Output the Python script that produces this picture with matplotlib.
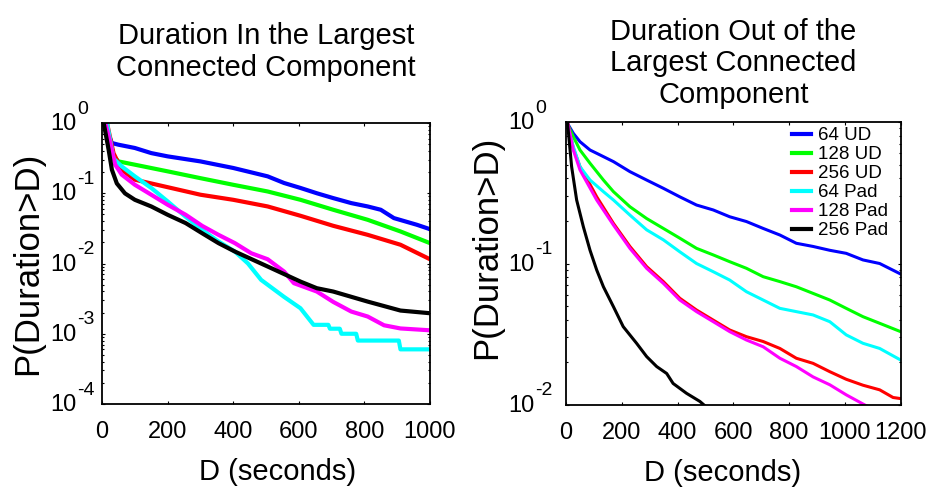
import numpy as np
import matplotlib.pyplot as plt
from matplotlib.transforms import offset_copy
from matplotlib.ticker import LogLocator, NullFormatter, NullLocator

plt.rcParams['font.family'] = ['Liberation Sans', 'DejaVu Sans']

names = ['64 UD', '128 UD', '256 UD', '64 Pad', '128 Pad', '256 Pad']
colors = ['#0000ff', '#00ff00', '#ff0000', '#00ffff', '#ff00ff', '#000000']

# left panel: duration in the largest connected component
in_d_64ud = [5, 30, 50, 100, 150, 200, 300, 400, 505, 555, 605, 655, 705, 760, 810, 850, 890, 960, 1000]
in_p_64ud = [1.0, 0.519, 0.491, 0.441, 0.373, 0.335, 0.284, 0.229, 0.174, 0.140, 0.119, 0.100,
             0.0853, 0.0724, 0.0649, 0.0582, 0.0443, 0.0356, 0.0308]
in_d_128ud = [10, 35, 50, 100, 200, 300, 400, 505, 605, 705, 810, 910, 1000]
in_p_128ud = [1.0, 0.335, 0.284, 0.255, 0.205, 0.164, 0.132, 0.106, 0.0807, 0.0582, 0.0419, 0.0286, 0.0195]
in_d_256ud = [15, 35, 60, 100, 200, 300, 400, 505, 605, 705, 810, 910, 1000]
in_p_256ud = [1.0, 0.372, 0.216, 0.156, 0.122, 0.0953, 0.0807, 0.0649, 0.0478, 0.0344, 0.0256, 0.0185, 0.0115]
in_d_64pad = [15, 35, 60, 100, 150, 200, 255, 305, 355, 405, 445, 485, 555, 605, 645, 690, 695,
              725, 730, 775, 780, 905, 910, 1000]
in_p_64pad = [1.0, 0.313, 0.241, 0.174, 0.119, 0.0766, 0.0462, 0.0302, 0.0206, 0.0148, 0.0100,
              0.00585, 0.00335, 0.00231, 0.00134, 0.00134, 0.00118, 0.00118, 0.00100, 0.00100,
              0.00080, 0.00080, 0.00060, 0.00060]
in_d_128pad = [10, 25, 40, 60, 100, 150, 200, 255, 305, 355, 405, 455, 505, 555, 585, 655, 705,
               760, 810, 860, 910, 1000]
in_p_128pad = [1.0, 0.519, 0.255, 0.184, 0.132, 0.0953, 0.0686, 0.0494, 0.0344, 0.0256, 0.0195,
               0.0140, 0.0115, 0.00769, 0.00525, 0.00399, 0.00284, 0.00207, 0.00176, 0.00132,
               0.00119, 0.00112]
in_d_256pad = [5, 20, 30, 45, 70, 100, 150, 200, 255, 305, 355, 405, 505, 605, 655, 705, 810, 910, 1000]
in_p_256pad = [1.0, 0.417, 0.216, 0.138, 0.0995, 0.0807, 0.0649, 0.0494, 0.0376, 0.0270, 0.0195,
               0.0148, 0.00906, 0.00553, 0.00445, 0.00399, 0.00287, 0.00214, 0.00196]

# right panel: duration out of the largest connected component
out_d_64ud = [2, 26, 50, 86, 122, 170, 229, 289, 349, 408, 468, 528, 587, 647, 707, 767, 826,
              886, 946, 1005, 1065, 1125, 1200]
out_p_64ud = [1.0, 0.832, 0.726, 0.634, 0.585, 0.525, 0.446, 0.389, 0.340, 0.296, 0.259, 0.239,
              0.214, 0.198, 0.177, 0.159, 0.139, 0.132, 0.124, 0.118, 0.106, 0.100, 0.0843]
out_d_128ud = [2, 26, 50, 86, 134, 170, 229, 289, 349, 408, 468, 528, 587, 647, 707, 767, 826,
               886, 946, 1005, 1065, 1125, 1200]
out_p_128ud = [1.0, 0.787, 0.634, 0.511, 0.389, 0.322, 0.252, 0.208, 0.177, 0.151, 0.128, 0.115,
               0.103, 0.0925, 0.0807, 0.0745, 0.0685, 0.0615, 0.0552, 0.0482, 0.0421, 0.0378, 0.0330]
out_d_256ud = [5, 26, 50, 74, 110, 170, 229, 289, 349, 408, 468, 528, 587, 647, 707, 767, 826,
               886, 946, 1005, 1065, 1125, 1173, 1200]
out_p_256ud = [1.0, 0.652, 0.483, 0.400, 0.296, 0.192, 0.132, 0.0951, 0.0745, 0.0568, 0.0469,
               0.0398, 0.0339, 0.0304, 0.0281, 0.0251, 0.0214, 0.0197, 0.0172, 0.0152, 0.0138,
               0.0128, 0.0113, 0.0111]
out_d_64pad = [2, 26, 50, 86, 134, 170, 229, 289, 349, 408, 468, 528, 587, 647, 707, 767, 826,
               886, 946, 1005, 1065, 1125, 1200]
out_p_64pad = [1.0, 0.670, 0.483, 0.389, 0.322, 0.281, 0.220, 0.173, 0.147, 0.121, 0.100, 0.0875,
               0.0764, 0.0632, 0.0552, 0.0482, 0.0457, 0.0433, 0.0388, 0.0313, 0.0273, 0.0251, 0.0208]
out_d_128pad = [5, 26, 50, 110, 170, 229, 289, 349, 408, 468, 528, 587, 647, 707, 767, 826, 886,
                946, 1005, 1080]
out_p_128pad = [1.0, 0.634, 0.458, 0.281, 0.187, 0.128, 0.0925, 0.0724, 0.0552, 0.0457, 0.0388,
                0.0330, 0.0288, 0.0258, 0.0214, 0.0187, 0.0158, 0.0139, 0.0118, 0.0098]
out_d_256pad = [5, 20, 38, 62, 86, 110, 134, 170, 205, 253, 289, 325, 361, 384, 432, 480, 500]
out_p_256pad = [1.0, 0.483, 0.281, 0.182, 0.124, 0.0899, 0.0685, 0.0495, 0.0358, 0.0273, 0.0220,
                0.0187, 0.0167, 0.0142, 0.0121, 0.0106, 0.0098]

left_series = [(in_d_64ud, in_p_64ud), (in_d_128ud, in_p_128ud), (in_d_256ud, in_p_256ud),
               (in_d_64pad, in_p_64pad), (in_d_128pad, in_p_128pad), (in_d_256pad, in_p_256pad)]
right_series = [(out_d_64ud, out_p_64ud), (out_d_128ud, out_p_128ud), (out_d_256ud, out_p_256ud),
                (out_d_64pad, out_p_64pad), (out_d_128pad, out_p_128pad), (out_d_256pad, out_p_256pad)]

left_title = 'Duration In the Largest\nConnected Component'
right_title = 'Duration Out of the\nLargest Connected\nComponent'
left_exps = [0, -1, -2, -3, -4]
right_exps = [0, -1, -2]
left_xticks = [0, 200, 400, 600, 800, 1000]
right_xticks = [0, 200, 400, 600, 800, 1000, 1200]

fig = plt.figure(figsize=(9.45, 4.93), dpi=100)
ax1 = fig.add_axes([0.108, 0.1805, 0.347, 0.570])
ax2 = fig.add_axes([0.599, 0.1785, 0.354, 0.574])


def style(ax, xticks, exps, xmax, dx):
    ax.set_yscale('log')
    ax.set_xlim(0, xmax)
    ax.set_ylim(10.0 ** exps[-1], 10.0 ** exps[0])
    ax.set_xticks(xticks)
    ax.set_xticklabels([str(t) for t in xticks])
    ax.set_yticks([10.0 ** e for e in exps])
    ax.yaxis.set_minor_locator(LogLocator(base=10, subs=np.arange(2, 10)))
    ax.yaxis.set_major_formatter(NullFormatter())
    ax.yaxis.set_minor_formatter(NullFormatter())
    ax.xaxis.set_minor_locator(NullLocator())
    ax.tick_params(which='both', direction='in', top=True, right=True, width=0.8)
    ax.tick_params(which='major', length=2.5)
    ax.tick_params(which='minor', length=1.5)
    ax.tick_params(axis='x', labelsize=17, pad=12)
    for s in ax.spines.values():
        s.set_linewidth(1.3)
    base = offset_copy(ax.get_yaxis_transform(), fig=fig, x=dx, y=-1, units='dots')
    sup = offset_copy(ax.get_yaxis_transform(), fig=fig, x=dx + 27, y=14, units='dots')
    for e in exps:
        ax.text(0, 10.0 ** e, '10', transform=base, ha='left', va='center', fontsize=17)
        ax.text(0, 10.0 ** e, str(e), transform=sup, ha='left', va='center', fontsize=14)
    ax.set_xlabel('D (seconds)', fontsize=21)
    ax.set_ylabel('P(Duration>D)', fontsize=25)
    ax.xaxis.label.set_va('center')
    ax.yaxis.label.set_va('center')


for (d, p), c, n in zip(left_series, colors, names):
    ax1.plot(d, p, color=c, lw=3.0, label=n)
for (d, p), c, n in zip(right_series, colors, names):
    ax2.plot(d, p, color=c, lw=2.2, label=n)

style(ax1, left_xticks, left_exps, 1000, -52)
style(ax2, right_xticks, right_exps, 1200, -58)

ax1.set_title(left_title, fontsize=21, pad=34, linespacing=1.15)
ax2.set_title(right_title, fontsize=21, pad=14, linespacing=1.15)

ax1.xaxis.set_label_coords(0.535, -0.242)
ax2.xaxis.set_label_coords(0.467, -0.24)
ax1.yaxis.set_label_coords(-0.226, 0.5)
ax2.yaxis.set_label_coords(-0.236, 0.558)

leg = ax2.legend(loc='upper left', bbox_to_anchor=(0.838, 0.742), bbox_transform=fig.transFigure,
                 frameon=False, fontsize=13.5, handlelength=1.0, handletextpad=0.4,
                 labelspacing=0.1, borderpad=0, borderaxespad=0)
for h in leg.get_lines():
    h.set_linewidth(3.0)

fig.savefig('out.png', dpi=100)
